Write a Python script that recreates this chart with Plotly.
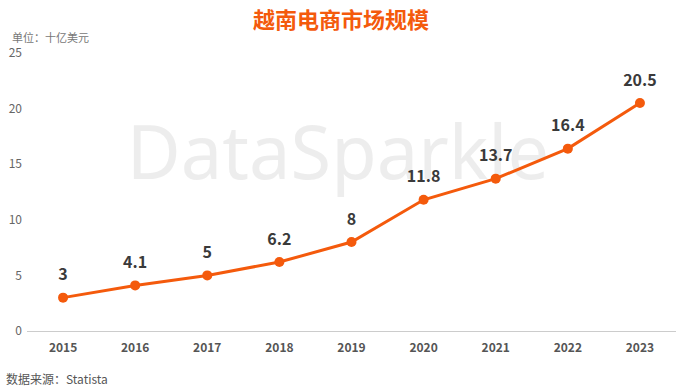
import plotly.graph_objects as go

years = ["2015", "2016", "2017", "2018", "2019", "2020", "2021", "2022", "2023"]
values = [3, 4.1, 5, 6.2, 8, 11.8, 13.7, 16.4, 20.5]
labels = ["3", "4.1", "5", "6.2", "8", "11.8", "13.7", "16.4", "20.5"]
y_ticks = [0, 5, 10, 15, 20, 25]

ORANGE = "#F45A0C"
FONT = "Noto Sans CJK SC"
W, H = 682, 391
ML, MR, MT, MB = 27, 6, 53, 60
pw = W - ML - MR
ph = H - MT - MB


def px_x(x):
    return (x - ML) / pw


def px_y(y):
    return (H - MB - y) / ph


fig = go.Figure()
fig.add_trace(go.Scatter(
    x=years, y=values, mode="lines+markers",
    line=dict(color=ORANGE, width=3),
    marker=dict(color=ORANGE, size=10),
    cliponaxis=False, hoverinfo="skip",
))
# value labels (invisible larger markers push the text above the points)
fig.add_trace(go.Scatter(
    x=years, y=values, mode="markers+text",
    marker=dict(color="rgba(0,0,0,0)", size=20),
    text=labels, textposition="top center",
    textfont=dict(family=FONT, size=16, color="#3a3a3a", weight="bold"),
    cliponaxis=False, hoverinfo="skip",
))

# watermark drawn beneath the data
fig.add_shape(
    type="rect", xref="paper", yref="paper",
    x0=px_x(130), x1=px_x(546), y0=px_y(200), y1=px_y(110),
    line=dict(width=0), fillcolor="rgba(0,0,0,0)", layer="below",
    label=dict(text="DataSparkle", textposition="middle center",
               font=dict(family="Noto Sans", size=74, color="rgba(215,215,215,0.45)")),
)

annotations = [
    dict(text="<b>越南电商市场规模</b>", x=px_x(341), y=px_y(18), xref="paper", yref="paper",
         xanchor="center", yanchor="middle", showarrow=False,
         font=dict(family=FONT, size=22, color=ORANGE)),
    dict(text="单位：十亿美元", x=px_x(10), y=px_y(37), xref="paper", yref="paper",
         xanchor="left", yanchor="middle", showarrow=False,
         font=dict(family=FONT, size=11, color="#777777")),
    dict(text="数据来源：Statista", x=px_x(4), y=px_y(378), xref="paper", yref="paper",
         xanchor="left", yanchor="middle", showarrow=False,
         font=dict(family=FONT, size=12, color="#555555")),
]

fig.update_layout(
    width=W, height=H,
    margin=dict(l=ML, r=MR, t=MT, b=MB),
    paper_bgcolor="white", plot_bgcolor="white",
    showlegend=False,
    font=dict(family=FONT),
    xaxis=dict(type="category", range=[-0.5, 8.5], showgrid=False, zeroline=False,
               showline=False, ticks="", ticklabelstandoff=8,
               tickfont=dict(family=FONT, size=12, color="#555555", weight="bold")),
    yaxis=dict(range=[0, 25], tickvals=y_ticks, showgrid=False, zeroline=True,
               zerolinecolor="#cccccc", zerolinewidth=1, showline=False,
               tickfont=dict(family=FONT, size=12, color="#666666"), ticklabelstandoff=4),
    annotations=annotations,
)

fig.write_html("out.html", config={"displayModeBar": False})

with open("out.html", encoding="utf-8") as f:
    html = f.read()
html = html.replace("<body>", '<body style="margin:0;overflow:hidden">', 1)
with open("out.html", "w", encoding="utf-8") as f:
    f.write(html)
